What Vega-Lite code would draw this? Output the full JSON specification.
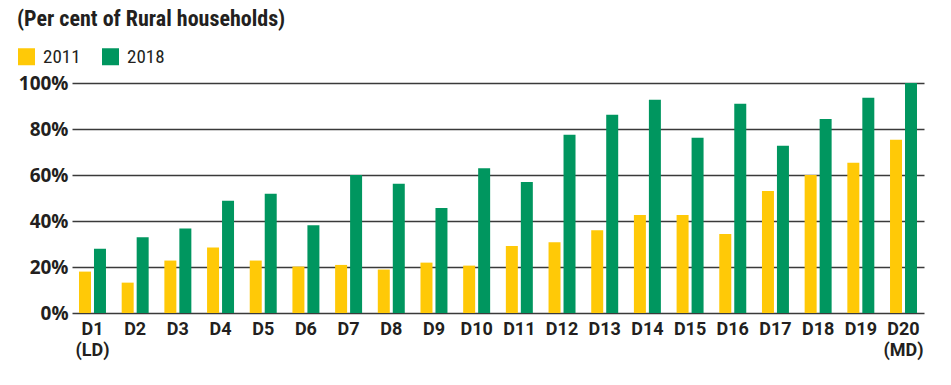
{
  "$schema": "https://vega.github.io/schema/vega-lite/v6.json",
  "autosize": {"type": "none"},
  "width": 852,
  "height": 230,
  "padding": {"left": 72, "top": 83, "right": 27, "bottom": 72},
  "background": "white",
  "title": {
    "text": "(Per cent of Rural households)",
    "anchor": "start",
    "frame": "group",
    "orient": "top",
    "dx": -55,
    "offset": 16,
    "font": "Liberation Sans Narrow, Roboto Condensed, Roboto",
    "fontSize": 22,
    "fontWeight": "bold",
    "color": "#231f20"
  },
  "data": {
    "values": [
      {"d": "D1", "year": "2011", "v": 18.0}, {"d": "D1", "year": "2018", "v": 27.9},
      {"d": "D2", "year": "2011", "v": 13.2}, {"d": "D2", "year": "2018", "v": 32.9},
      {"d": "D3", "year": "2011", "v": 22.8}, {"d": "D3", "year": "2018", "v": 36.7},
      {"d": "D4", "year": "2011", "v": 28.5}, {"d": "D4", "year": "2018", "v": 48.8},
      {"d": "D5", "year": "2011", "v": 22.8}, {"d": "D5", "year": "2018", "v": 51.8},
      {"d": "D6", "year": "2011", "v": 20.2}, {"d": "D6", "year": "2018", "v": 38.2},
      {"d": "D7", "year": "2011", "v": 20.9}, {"d": "D7", "year": "2018", "v": 60.0},
      {"d": "D8", "year": "2011", "v": 18.9}, {"d": "D8", "year": "2018", "v": 56.2},
      {"d": "D9", "year": "2011", "v": 21.9}, {"d": "D9", "year": "2018", "v": 45.6},
      {"d": "D10", "year": "2011", "v": 20.6}, {"d": "D10", "year": "2018", "v": 62.9},
      {"d": "D11", "year": "2011", "v": 29.1}, {"d": "D11", "year": "2018", "v": 57.0},
      {"d": "D12", "year": "2011", "v": 30.8}, {"d": "D12", "year": "2018", "v": 77.5},
      {"d": "D13", "year": "2011", "v": 36.0}, {"d": "D13", "year": "2018", "v": 86.2},
      {"d": "D14", "year": "2011", "v": 42.6}, {"d": "D14", "year": "2018", "v": 92.7},
      {"d": "D15", "year": "2011", "v": 42.6}, {"d": "D15", "year": "2018", "v": 76.2},
      {"d": "D16", "year": "2011", "v": 34.3}, {"d": "D16", "year": "2018", "v": 91.0},
      {"d": "D17", "year": "2011", "v": 53.0}, {"d": "D17", "year": "2018", "v": 72.7},
      {"d": "D18", "year": "2011", "v": 60.0}, {"d": "D18", "year": "2018", "v": 84.4},
      {"d": "D19", "year": "2011", "v": 65.3}, {"d": "D19", "year": "2018", "v": 93.6},
      {"d": "D20", "year": "2011", "v": 75.3}, {"d": "D20", "year": "2018", "v": 100.0}
    ]
  },
  "mark": {"type": "bar"},
  "encoding": {
    "x": {
      "field": "d",
      "type": "nominal",
      "sort": null,
      "scale": {"paddingInner": 0.368, "paddingOuter": 0.164},
      "axis": {
        "title": null,
        "domain": false,
        "ticks": false,
        "labelAngle": 0,
        "labelPadding": 7,
        "labelFont": "Roboto",
        "labelFontSize": 18,
        "labelFontWeight": "bold",
        "labelColor": "#231f20",
        "labelLineHeight": 21,
        "labelExpr": "datum.value == 'D1' ? ['D1', '(LD)'] : datum.value == 'D20' ? ['D20', '(MD)'] : datum.value"
      }
    },
    "xOffset": {
      "field": "year",
      "type": "nominal",
      "scale": {"paddingInner": 0.2}
    },
    "y": {
      "field": "v",
      "type": "quantitative",
      "scale": {"domain": [0, 100], "nice": false},
      "axis": {
        "title": null,
        "values": [0, 20, 40, 60, 80, 100],
        "labelExpr": "datum.value + '%'",
        "domain": false,
        "ticks": false,
        "grid": true,
        "gridColor": "#3a3a3a",
        "gridWidth": 1.4,
        "gridOpacity": 1,
        "labelPadding": 4,
        "labelFont": "Open Sans",
        "labelFontSize": 19,
        "labelFontWeight": "bold",
        "labelColor": "#231f20"
      }
    },
    "color": {
      "field": "year",
      "type": "nominal",
      "scale": {"domain": ["2011", "2018"], "range": ["#FFC907", "#00965F"]},
      "legend": {
        "title": null,
        "orient": "none",
        "direction": "horizontal",
        "legendX": -55,
        "legendY": -36,
        "padding": 0,
        "symbolType": "square",
        "symbolSize": 289,
        "symbolStrokeWidth": 0,
        "symbolOpacity": 1,
        "labelFont": "Liberation Sans Narrow, Roboto Condensed, Roboto",
        "labelFontSize": 19,
        "labelColor": "#231f20",
        "labelOffset": 7,
        "columnPadding": 20
      }
    }
  },
  "config": {"view": {"stroke": null}}
}
